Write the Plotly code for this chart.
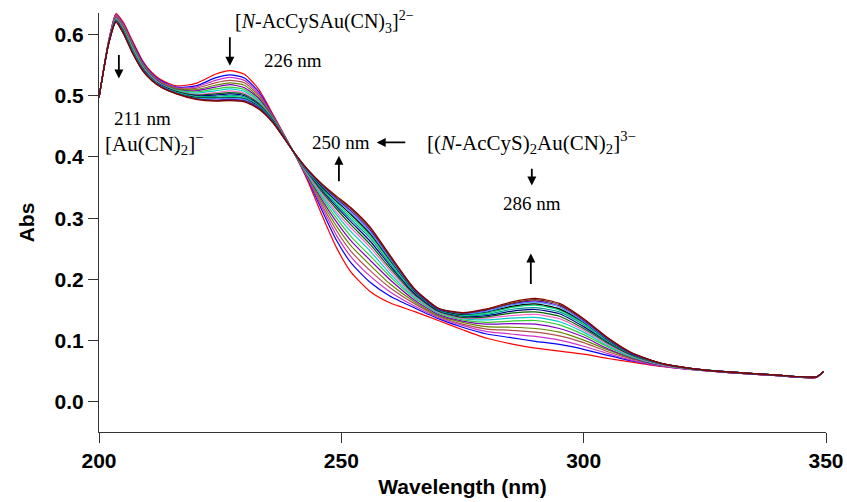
import plotly.graph_objects as go

# Wavelength grid (nm)
wavelength = [200, 202, 203.5, 205, 207, 209, 211, 213, 216, 220, 224, 227, 230, 233, 236, 240,
              243, 246, 249, 252, 256, 260, 265, 270, 275, 280, 285, 290, 295, 300, 305, 310,
              316, 322, 330, 340, 348, 349.5]

# Absorbance spectra, first (red) to last of the titration
spec01 = [0.497, 0.590, 0.634, 0.620, 0.588, 0.557, 0.537, 0.525, 0.516, 0.520, 0.535, 0.541, 0.535, 0.510, 0.468, 0.410,
          0.362, 0.305, 0.252, 0.212, 0.180, 0.162, 0.148, 0.133, 0.118, 0.104, 0.095, 0.088, 0.083, 0.078, 0.071, 0.065,
          0.058, 0.053, 0.048, 0.043, 0.040, 0.050]
spec02 = [0.497, 0.589, 0.632, 0.617, 0.585, 0.555, 0.535, 0.523, 0.514, 0.516, 0.529, 0.534, 0.529, 0.506, 0.466, 0.410,
          0.365, 0.313, 0.264, 0.227, 0.195, 0.173, 0.154, 0.136, 0.122, 0.111, 0.105, 0.099, 0.094, 0.086, 0.076, 0.067,
          0.059, 0.053, 0.048, 0.043, 0.040, 0.050]
spec03 = [0.497, 0.589, 0.631, 0.616, 0.583, 0.553, 0.534, 0.522, 0.513, 0.514, 0.525, 0.530, 0.525, 0.503, 0.465, 0.410,
          0.366, 0.318, 0.272, 0.237, 0.205, 0.180, 0.157, 0.138, 0.125, 0.115, 0.111, 0.107, 0.101, 0.091, 0.079, 0.068,
          0.059, 0.053, 0.048, 0.043, 0.040, 0.050]
spec04 = [0.497, 0.588, 0.630, 0.614, 0.582, 0.552, 0.533, 0.521, 0.512, 0.512, 0.521, 0.525, 0.521, 0.500, 0.464, 0.410,
          0.368, 0.322, 0.280, 0.246, 0.214, 0.187, 0.161, 0.140, 0.127, 0.119, 0.117, 0.114, 0.108, 0.097, 0.082, 0.070,
          0.060, 0.054, 0.048, 0.043, 0.040, 0.050]
spec05 = [0.497, 0.588, 0.628, 0.613, 0.580, 0.551, 0.532, 0.520, 0.511, 0.510, 0.517, 0.521, 0.517, 0.497, 0.463, 0.410,
          0.369, 0.326, 0.287, 0.255, 0.223, 0.193, 0.164, 0.141, 0.130, 0.123, 0.122, 0.120, 0.114, 0.101, 0.085, 0.071,
          0.060, 0.054, 0.048, 0.043, 0.040, 0.050]
spec06 = [0.497, 0.588, 0.627, 0.611, 0.578, 0.549, 0.531, 0.519, 0.510, 0.508, 0.514, 0.518, 0.513, 0.495, 0.462, 0.410,
          0.370, 0.330, 0.294, 0.263, 0.231, 0.200, 0.167, 0.143, 0.132, 0.127, 0.128, 0.127, 0.120, 0.106, 0.087, 0.072,
          0.060, 0.054, 0.048, 0.043, 0.040, 0.050]
spec07 = [0.497, 0.587, 0.626, 0.610, 0.577, 0.548, 0.530, 0.518, 0.509, 0.506, 0.511, 0.514, 0.510, 0.492, 0.461, 0.410,
          0.371, 0.334, 0.300, 0.270, 0.238, 0.205, 0.170, 0.145, 0.134, 0.130, 0.132, 0.133, 0.126, 0.110, 0.090, 0.073,
          0.061, 0.054, 0.049, 0.044, 0.041, 0.050]
spec08 = [0.497, 0.587, 0.625, 0.609, 0.576, 0.547, 0.529, 0.518, 0.508, 0.504, 0.508, 0.511, 0.507, 0.490, 0.460, 0.410,
          0.372, 0.337, 0.306, 0.278, 0.246, 0.210, 0.172, 0.146, 0.136, 0.134, 0.137, 0.138, 0.131, 0.114, 0.092, 0.074,
          0.061, 0.054, 0.049, 0.044, 0.041, 0.050]
spec09 = [0.497, 0.587, 0.625, 0.608, 0.574, 0.546, 0.528, 0.517, 0.507, 0.502, 0.505, 0.508, 0.504, 0.488, 0.459, 0.410,
          0.373, 0.340, 0.310, 0.284, 0.252, 0.215, 0.174, 0.147, 0.137, 0.137, 0.141, 0.143, 0.136, 0.117, 0.094, 0.075,
          0.061, 0.054, 0.049, 0.044, 0.041, 0.050]
spec10 = [0.497, 0.586, 0.624, 0.607, 0.573, 0.545, 0.527, 0.516, 0.507, 0.501, 0.503, 0.505, 0.502, 0.487, 0.459, 0.410,
          0.375, 0.343, 0.315, 0.289, 0.257, 0.219, 0.176, 0.148, 0.138, 0.139, 0.145, 0.147, 0.140, 0.120, 0.096, 0.076,
          0.062, 0.054, 0.049, 0.044, 0.041, 0.050]
spec11 = [0.497, 0.586, 0.623, 0.606, 0.572, 0.544, 0.527, 0.516, 0.506, 0.500, 0.501, 0.503, 0.500, 0.485, 0.458, 0.410,
          0.376, 0.346, 0.319, 0.294, 0.262, 0.223, 0.178, 0.149, 0.140, 0.141, 0.148, 0.151, 0.144, 0.123, 0.098, 0.077,
          0.062, 0.055, 0.049, 0.044, 0.041, 0.050]
spec12 = [0.497, 0.586, 0.623, 0.605, 0.572, 0.544, 0.526, 0.515, 0.505, 0.499, 0.499, 0.501, 0.498, 0.484, 0.457, 0.410,
          0.377, 0.348, 0.322, 0.298, 0.267, 0.226, 0.180, 0.150, 0.141, 0.143, 0.151, 0.154, 0.147, 0.126, 0.099, 0.077,
          0.062, 0.055, 0.049, 0.044, 0.041, 0.050]
spec13 = [0.497, 0.586, 0.622, 0.605, 0.571, 0.543, 0.526, 0.515, 0.505, 0.498, 0.497, 0.499, 0.496, 0.483, 0.457, 0.410,
          0.377, 0.350, 0.325, 0.302, 0.271, 0.229, 0.181, 0.151, 0.142, 0.145, 0.154, 0.158, 0.150, 0.128, 0.100, 0.078,
          0.062, 0.055, 0.049, 0.044, 0.041, 0.050]
spec14 = [0.497, 0.586, 0.622, 0.604, 0.570, 0.543, 0.525, 0.514, 0.504, 0.497, 0.496, 0.497, 0.495, 0.482, 0.456, 0.410,
          0.378, 0.351, 0.328, 0.306, 0.274, 0.232, 0.182, 0.151, 0.143, 0.147, 0.156, 0.160, 0.152, 0.130, 0.101, 0.078,
          0.063, 0.055, 0.049, 0.044, 0.041, 0.050]
spec15 = [0.497, 0.585, 0.621, 0.603, 0.570, 0.542, 0.525, 0.514, 0.504, 0.496, 0.495, 0.496, 0.494, 0.481, 0.456, 0.410,
          0.378, 0.353, 0.330, 0.309, 0.277, 0.234, 0.183, 0.152, 0.144, 0.148, 0.158, 0.163, 0.155, 0.131, 0.102, 0.079,
          0.063, 0.055, 0.049, 0.044, 0.041, 0.050]
spec16 = [0.497, 0.585, 0.621, 0.603, 0.569, 0.542, 0.525, 0.514, 0.504, 0.495, 0.493, 0.494, 0.492, 0.480, 0.456, 0.410,
          0.379, 0.354, 0.332, 0.312, 0.280, 0.237, 0.184, 0.152, 0.145, 0.150, 0.160, 0.165, 0.157, 0.133, 0.103, 0.079,
          0.063, 0.055, 0.049, 0.044, 0.041, 0.050]
spec17 = [0.497, 0.585, 0.620, 0.602, 0.569, 0.541, 0.524, 0.513, 0.503, 0.495, 0.492, 0.493, 0.491, 0.479, 0.455, 0.410,
          0.380, 0.355, 0.334, 0.315, 0.283, 0.238, 0.185, 0.153, 0.145, 0.151, 0.161, 0.167, 0.159, 0.135, 0.104, 0.080,
          0.063, 0.055, 0.049, 0.044, 0.041, 0.050]
spec18 = [0.497, 0.585, 0.620, 0.602, 0.568, 0.541, 0.524, 0.513, 0.503, 0.494, 0.491, 0.492, 0.490, 0.478, 0.455, 0.410,
          0.380, 0.356, 0.336, 0.317, 0.285, 0.240, 0.186, 0.153, 0.146, 0.152, 0.163, 0.169, 0.161, 0.136, 0.105, 0.080,
          0.063, 0.055, 0.049, 0.044, 0.041, 0.050]

spectra = [spec01, spec02, spec03, spec04, spec05, spec06, spec07, spec08, spec09,
           spec10, spec11, spec12, spec13, spec14, spec15, spec16, spec17, spec18]

colors = ["#ff0000", "#0000ff", "#cc33cc", "#b05050", "#668800", "#8000c0", "#33cc33", "#00cccc",
          "#ff66cc", "#006600", "#000080", "#009999", "#00e070", "#000000", "#3399ff", "#6600cc",
          "#663300", "#800000"]

y_ticks = [0.0, 0.1, 0.2, 0.3, 0.4, 0.5, 0.6]
x_ticks = [200, 250, 300, 350]

fig = go.Figure()
for spec, col in zip(spectra, colors):
    fig.add_trace(go.Scatter(x=wavelength, y=spec, mode="lines",
                             line=dict(color=col, width=1.2, shape="spline", smoothing=0.6),
                             showlegend=False, hoverinfo="skip"))

serif = "Liberation Serif, Times New Roman, serif"
sans = "Liberation Sans, Arial, sans-serif"

# arrows: (tip_x, tip_y, tail_x, tail_y)
arrows = [
    (204.1, 0.528, 204.1, 0.569),
    (227.0, 0.549, 227.0, 0.598),
    (257.3, 0.4237, 263.5, 0.4237),
    (249.5, 0.402, 249.5, 0.358),
    (289.3, 0.3535, 289.3, 0.383),
    (289.1, 0.2425, 289.1, 0.190),
]
for tx, ty, ax, ay in arrows:
    fig.add_annotation(x=tx, y=ty, ax=ax, ay=ay, xref="x", yref="y", axref="x", ayref="y",
                       text="", showarrow=True, arrowhead=2, arrowsize=1, arrowwidth=1.8,
                       arrowcolor="black")

labels = [
    (209.05, 0.463, "211 nm", "center", 19),
    (211.3, 0.422, "[Au(CN)<sub>2</sub>]<sup>−</sup>", "center", 21),
    (227.6, 0.620, "[<i>N</i>-AcCySAu(CN)<sub>3</sub>]<sup>2−</sup>", "left", 20),
    (240.0, 0.557, "226 nm", "center", 19),
    (249.9, 0.4237, "250 nm", "center", 19),
    (267.3, 0.4237, "[(<i>N</i>-AcCyS)<sub>2</sub>Au(CN)<sub>2</sub>]<sup>3−</sup>", "left", 21),
    (289.3, 0.324, "286 nm", "center", 19),
]
for lx, ly, t, anc, sz in labels:
    fig.add_annotation(x=lx, y=ly, xref="x", yref="y", text=t, showarrow=False,
                       xanchor=anc, yanchor="middle",
                       font=dict(family=serif, size=sz, color="black"))

axis_col = "#333333"
fig.update_xaxes(range=[200, 350], tickvals=x_ticks, ticks="outside", ticklen=10, tickwidth=1,
                 tickcolor=axis_col, showline=True, linecolor=axis_col, linewidth=1,
                 showgrid=False, zeroline=False, automargin=False,
                 tickfont=dict(family=sans, size=21, color="black", weight="bold"),
                 title=dict(text="Wavelength (nm)", font=dict(family=sans, size=21, color="black", weight="bold"),
                            standoff=8))
fig.update_yaxes(range=[-0.049, 0.635], tickvals=y_ticks, tickformat=".1f", ticks="outside", ticklen=10,
                 tickwidth=1, tickcolor=axis_col, showline=True, linecolor=axis_col, linewidth=1,
                 showgrid=False, zeroline=False, automargin=False,
                 tickfont=dict(family=sans, size=21, color="black", weight="bold"),
                 title=dict(text="Abs", font=dict(family=sans, size=21, color="black", weight="bold"),
                            standoff=14))
fig.update_layout(width=847, height=502, margin=dict(l=99, r=21, t=13, b=70),
                  plot_bgcolor="white", paper_bgcolor="white")

fig.write_html("out.html", config={"displayModeBar": False},
               post_script="document.body.style.margin='0';")
